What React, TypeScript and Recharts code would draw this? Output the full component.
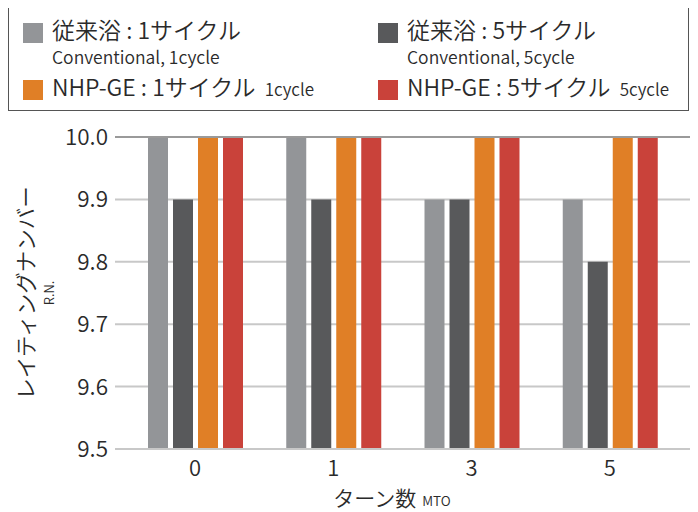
import { BarChart, Bar, XAxis, YAxis, CartesianGrid, ReferenceLine } from "recharts";

const FONT = '"Noto Sans CJK JP", "Noto Sans", sans-serif';
const INK = "#2a2a2a";
const WEIGHT = 350;

// turns (MTO) and rating numbers
const turns = ["0", "1", "3", "5"];
const conv1 = [10.0, 10.0, 9.9, 9.9];
const conv5 = [9.9, 9.9, 9.9, 9.8];
const nhp1 = [10.0, 10.0, 10.0, 10.0];
const nhp5 = [10.0, 10.0, 10.0, 10.0];
const yTicks = [9.5, 9.6, 9.7, 9.8, 9.9, 10.0];

const series = [
  { key: "conv1", values: conv1, color: "#939598", name: "従来浴 : 1サイクル", sub: "Conventional, 1cycle", inline: "" },
  { key: "conv5", values: conv5, color: "#58595b", name: "従来浴 : 5サイクル", sub: "Conventional, 5cycle", inline: "" },
  { key: "nhp1", values: nhp1, color: "#e07f26", name: "NHP-GE : 1サイクル", sub: "", inline: "1cycle" },
  { key: "nhp5", values: nhp5, color: "#c9423a", name: "NHP-GE : 5サイクル", sub: "", inline: "5cycle" },
];

const data = turns.map((t, i) => {
  const row: Record<string, string | number> = { turn: t };
  series.forEach((s) => (row[s.key] = s.values[i]));
  return row;
});

function LegendBox() {
  const cell = (s: (typeof series)[number], left: number, top: number) => (
    <div key={s.key} style={{ position: "absolute", left, top }}>
      <div style={{ position: "absolute", left: 0, top: 0, width: 20, height: 20, background: s.color }} />
      <div style={{ position: "absolute", left: 29, top: -11, whiteSpace: "nowrap", fontSize: 23 }}>
        {s.name}
        {s.inline && <span style={{ fontSize: 17, marginLeft: 9 }}>{s.inline}</span>}
      </div>
      {s.sub && (
        <div style={{ position: "absolute", left: 29, top: 21, whiteSpace: "nowrap", fontSize: 17.5 }}>
          {s.sub}
        </div>
      )}
    </div>
  );
  return (
    <div
      style={{
        position: "absolute",
        left: 8,
        top: 7,
        width: 681,
        height: 104,
        border: "1px solid #555",
        boxSizing: "border-box",
        color: INK,
        fontWeight: WEIGHT,
      }}
    >
      {cell(series[0], 14, 15)}
      {cell(series[1], 369, 15)}
      {cell(series[2], 14, 72)}
      {cell(series[3], 369, 72)}
    </div>
  );
}

function YLabel() {
  const cy = 293;
  return (
    <g fontFamily={FONT} fontWeight={WEIGHT} fill={INK}>
      <text x={24} y={cy} transform={`rotate(-90 24 ${cy})`} textAnchor="middle" dominantBaseline="central" fontSize={21.5}>
        レイティングナンバー
      </text>
      <text x={48} y={cy} transform={`rotate(-90 48 ${cy})`} textAnchor="middle" dominantBaseline="central" fontSize={13}>
        R.N.
      </text>
    </g>
  );
}

export default function App() {
  return (
    <div style={{ position: "relative", margin: "-8px -8px 0 -8px", width: 698, height: 512, background: "#fff", fontFamily: FONT }}>
      <BarChart
        width={698}
        height={512}
        data={data}
        margin={{ top: 137, right: 8, bottom: 33, left: 30 }}
        barCategoryGap={22}
        barGap={5}
      >
        <CartesianGrid vertical={false} stroke="#c8c8c8" strokeWidth={2} />
        <XAxis
          dataKey="turn"
          height={30}
          padding={{ left: 11, right: 11 }}
          axisLine={{ stroke: "#c8c8c8", strokeWidth: 2 }}
          tickLine={false}
          tickSize={0}
          tickMargin={11}
          tick={{ fontSize: 22, fill: INK, fontFamily: FONT, fontWeight: WEIGHT }}
        />
        <YAxis
          width={85}
          domain={[9.5, 10]}
          ticks={yTicks}
          allowDataOverflow
          axisLine={false}
          tickLine={false}
          tickSize={0}
          tickMargin={7}
          tickFormatter={(v: number) => v.toFixed(1)}
          tick={{ fontSize: 22.5, fill: INK, fontFamily: FONT, fontWeight: WEIGHT }}
          label={<YLabel />}
        />
        <ReferenceLine y={10} stroke="#9a9a9a" strokeWidth={2} />
        {series.map((s) => (
          <Bar key={s.key} dataKey={s.key} fill={s.color} isAnimationActive={false} />
        ))}
      </BarChart>
      <div
        style={{
          position: "absolute",
          left: 0,
          width: 698,
          top: 482,
          textAlign: "center",
          whiteSpace: "nowrap",
          color: INK,
          fontWeight: WEIGHT,
          lineHeight: "30px",
          paddingLeft: 86,
          boxSizing: "border-box",
        }}
      >
        <span style={{ fontSize: 21 }}>ターン数</span>
        <span style={{ fontSize: 13.5, marginLeft: 6 }}>MTO</span>
      </div>
      <LegendBox />
    </div>
  );
}
